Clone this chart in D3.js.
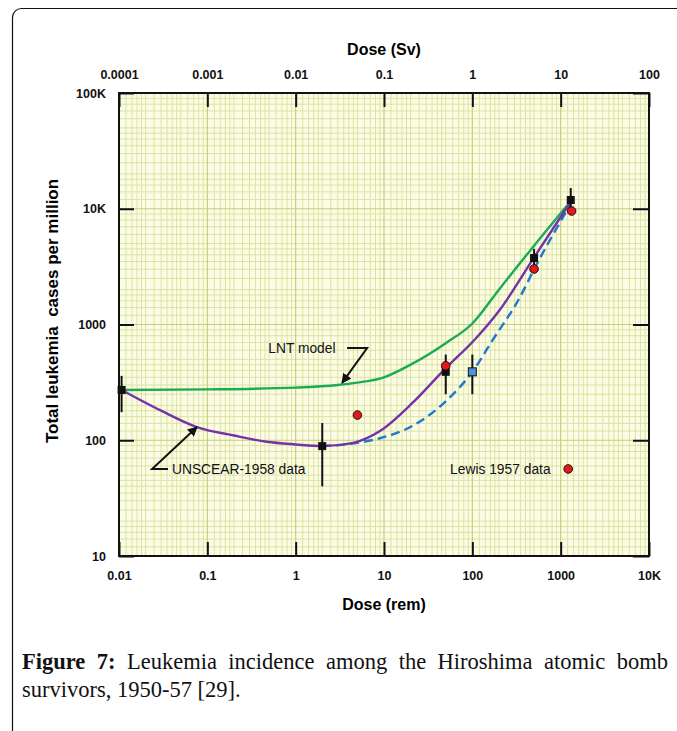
<!DOCTYPE html>
<html lang="en">
<head>
<meta charset="UTF-8">
<title>Leukemia incidence, Hiroshima</title>
<script src="https://cdn.jsdelivr.net/npm/d3@7/dist/d3.min.js"></script>
<style>
    body { margin: 0; background: #fff; }
    svg { font-family: "Liberation Sans", Arial, sans-serif; }
</style>
</head>
<body>
<svg id="main" width="677" height="731"></svg>
<script>
    // ---- data ----
    const remTicks = [0.01, 0.1, 1, 10, 100, 1000, 10000];
    const remLabels = ['0.01', '0.1', '1', '10', '100', '1000', '10K'];
    const svTicks = [0.0001, 0.001, 0.01, 0.1, 1, 10, 100];
    const svLabels = ['0.0001', '0.001', '0.01', '0.1', '1', '10', '100'];
    const caseTicks = [10, 100, 1000, 10000, 100000];
    const caseLabels = ['10', '100', '1000', '10K', '100K'];

    // LNT model curve [dose rem, cases per million]
    const lntDose =  [0.0107, 0.1, 1, 3, 5, 10, 20, 50, 100, 200, 500, 1300];
    const lntCases = [272, 275, 285, 300, 315, 350, 450, 690, 1020, 2000, 4800, 11600];

    // UNSCEAR-1958 fit (purple)
    const fitDose =  [0.0107, 0.03, 0.076, 0.2, 0.47, 1, 2, 4.5, 9, 21, 50, 108, 206, 500, 1300];
    const fitCases = [272, 180, 130, 110, 97, 92, 89, 95, 120, 210, 420, 750, 1350, 3800, 11500];

    // dashed blue curve
    const dashDose =  [2, 5, 9, 21, 52, 100, 170, 347, 500, 1300];
    const dashCases = [89, 95, 104, 133, 223, 390, 735, 1730, 3000, 11000];

    // UNSCEAR-1958 data points with error bars
    const unDose = [0.0107, 2, 50, 500, 1300];
    const unCases = [272, 89, 390, 3750, 11900];
    const unLow = [175, 40, 250, 2960, 9400];
    const unHigh = [360, 141, 550, 4500, 15100];

    // blue square point
    const blueDose = [100];
    const blueCases = [390];
    const blueLow = [250];
    const blueHigh = [550];

    // Lewis 1957 data (red)
    const lewisDose = [5, 50, 500, 1330];
    const lewisCases = [165, 440, 3020, 9560];

    // ---- layout ----
    const svg = d3.select('svg#main');
    const pLeft = 119, pRight = 649, pTop = 93, pBottom = 556;

    const x = d3.scaleLog().domain([0.01, 10000]).range([pLeft, pRight]);
    const xSv = d3.scaleLog().domain([0.0001, 100]).range([pLeft, pRight]);
    const y = d3.scaleLog().domain([10, 100000]).range([pBottom, pTop]);

    // outer frame
    svg.append('rect')
        .attr('x', 12.5).attr('y', 8.5)
        .attr('width', 700).attr('height', 760)
        .attr('rx', 9)
        .attr('fill', 'none').attr('stroke', '#111').attr('stroke-width', 1.2);

    // plot background
    svg.append('rect')
        .attr('x', pLeft).attr('y', pTop)
        .attr('width', pRight - pLeft).attr('height', pBottom - pTop)
        .attr('fill', '#fcfce6');

    // minor grid
    const subs = [1.2, 1.4, 1.6, 1.8, 2, 2.5, 3, 3.5, 4, 4.5, 5, 6, 7, 8, 9];
    let minorX = [], minorY = [];
    remTicks.slice(0, -1).forEach(d => subs.forEach(m => minorX.push(d * m)));
    caseTicks.slice(0, -1).forEach(d => subs.forEach(m => minorY.push(d * m)));

    let grid = svg.append('g');
    grid.selectAll('.mx').data(minorX).enter().append('line')
        .attr('x1', d => x(d)).attr('x2', d => x(d))
        .attr('y1', pTop).attr('y2', pBottom)
        .attr('stroke', '#dbe3a0').attr('stroke-width', 1);
    grid.selectAll('.my').data(minorY).enter().append('line')
        .attr('y1', d => y(d)).attr('y2', d => y(d))
        .attr('x1', pLeft).attr('x2', pRight)
        .attr('stroke', '#dbe3a0').attr('stroke-width', 1);
    // decade grid
    grid.selectAll('.dx').data(remTicks).enter().append('line')
        .attr('x1', d => x(d)).attr('x2', d => x(d))
        .attr('y1', pTop).attr('y2', pBottom)
        .attr('stroke', '#c6cf78').attr('stroke-width', 1.2);
    grid.selectAll('.dy').data(caseTicks).enter().append('line')
        .attr('y1', d => y(d)).attr('y2', d => y(d))
        .attr('x1', pLeft).attr('x2', pRight)
        .attr('stroke', '#c6cf78').attr('stroke-width', 1.2);

    // axes (ticks point inward)
    const axisFont = g => g.selectAll('text')
        .style('font-family', '"Liberation Sans", Arial, sans-serif')
        .style('font-size', '12.5px').style('font-weight', 'bold').attr('fill', '#111');
    const axisLines = g => {
        g.select('.domain').remove();
        g.selectAll('line').attr('stroke', '#111').attr('stroke-width', 2);
    };

    svg.append('g')
        .attr('transform', 'translate(0,' + pBottom + ')')
        .call(d3.axisBottom(x).tickValues(remTicks).tickFormat((d, i) => remLabels[i])
            .tickSizeInner(-14).tickSizeOuter(0).tickPadding(15))
        .call(axisLines).call(axisFont);

    svg.append('g')
        .attr('transform', 'translate(0,' + pTop + ')')
        .call(d3.axisTop(xSv).tickValues(svTicks).tickFormat((d, i) => svLabels[i])
            .tickSizeInner(-14).tickSizeOuter(0).tickPadding(14))
        .call(axisLines).call(axisFont);

    svg.append('g')
        .attr('transform', 'translate(' + pLeft + ',0)')
        .call(d3.axisLeft(y).tickValues(caseTicks).tickFormat((d, i) => caseLabels[i])
            .tickSizeInner(-15).tickSizeOuter(0).tickPadding(13))
        .call(axisLines).call(axisFont);

    svg.append('g')
        .attr('transform', 'translate(' + pRight + ',0)')
        .call(d3.axisRight(y).tickValues(caseTicks).tickFormat('')
            .tickSizeInner(-16).tickSizeOuter(0))
        .call(axisLines);

    // plot border
    svg.append('rect')
        .attr('x', pLeft).attr('y', pTop)
        .attr('width', pRight - pLeft).attr('height', pBottom - pTop)
        .attr('fill', 'none').attr('stroke', '#111').attr('stroke-width', 2);

    // axis titles
    svg.append('text').text('Dose (Sv)')
        .attr('x', (pLeft + pRight) / 2).attr('y', 55)
        .attr('text-anchor', 'middle')
        .style('font-size', '16px').style('font-weight', 'bold');
    svg.append('text').text('Dose (rem)')
        .attr('x', (pLeft + pRight) / 2).attr('y', 610)
        .attr('text-anchor', 'middle')
        .style('font-size', '16px').style('font-weight', 'bold');
    svg.append('text').text('Total leukemia  cases per million')
        .attr('transform', 'translate(58,311) rotate(-90)')
        .attr('text-anchor', 'middle')
        .style('font-size', '17px').style('font-weight', 'bold')
        .style('white-space', 'pre');

    // curves
    const line = d3.line()
        .x(d => x(d[0])).y(d => y(d[1]))
        .curve(d3.curveMonotoneX);

    const curves = [
        {dose: lntDose, cases: lntCases, color: '#1bab55', dash: null},
        {dose: fitDose, cases: fitCases, color: '#7332a6', dash: null},
        {dose: dashDose, cases: dashCases, color: '#1f78c9', dash: '9,5'}
    ];
    // dashed first so purple sits over it like in the figure
    [curves[2], curves[0], curves[1]].forEach(c => {
        svg.append('path')
            .datum(d3.zip(c.dose, c.cases))
            .attr('d', line)
            .attr('fill', 'none')
            .attr('stroke', c.color)
            .attr('stroke-width', 2.4)
            .attr('stroke-dasharray', c.dash);
    });

    // error bars
    const errs = d3.zip(unDose, unLow, unHigh).concat(d3.zip(blueDose, blueLow, blueHigh));
    svg.append('g').selectAll('line').data(errs).enter().append('line')
        .attr('x1', d => x(d[0])).attr('x2', d => x(d[0]))
        .attr('y1', d => y(d[1])).attr('y2', d => y(d[2]))
        .attr('stroke', '#111').attr('stroke-width', 2);

    // UNSCEAR squares
    svg.append('g').selectAll('rect').data(d3.zip(unDose, unCases)).enter().append('rect')
        .attr('x', d => x(d[0]) - 4).attr('y', d => y(d[1]) - 4)
        .attr('width', 8).attr('height', 8)
        .attr('fill', '#111');

    // blue square
    svg.append('g').selectAll('rect').data(d3.zip(blueDose, blueCases)).enter().append('rect')
        .attr('x', d => x(d[0]) - 4).attr('y', d => y(d[1]) - 4)
        .attr('width', 8).attr('height', 8)
        .attr('fill', '#4b93dc').attr('stroke', '#111').attr('stroke-width', 1);

    // Lewis red dots
    svg.append('g').selectAll('circle').data(d3.zip(lewisDose, lewisCases)).enter().append('circle')
        .attr('cx', d => x(d[0])).attr('cy', d => y(d[1]))
        .attr('r', 4.3)
        .attr('fill', '#e8161b').attr('stroke', '#111').attr('stroke-width', 1);

    // annotations
    svg.append('defs').append('marker')
        .attr('id', 'arrow')
        .attr('viewBox', '0 0 10 10')
        .attr('refX', 9).attr('refY', 5)
        .attr('markerWidth', 5).attr('markerHeight', 5)
        .attr('orient', 'auto')
        .append('path').attr('d', 'M0,0 L10,5 L0,10 z').attr('fill', '#111');

    const annot = svg.append('g').style('font-size', '13.8px').attr('fill', '#111');

    // LNT model label + leader
    annot.append('text').text('LNT model')
        .attr('x', x(0.49)).attr('y', y(627) + 5);
    annot.append('path')
        .attr('d', d3.line()([[x(3.82), y(627)], [x(6.44), y(627)], [x(3.35), y(313)]]))
        .attr('fill', 'none').attr('stroke', '#111').attr('stroke-width', 2)
        .attr('marker-end', 'url(#arrow)');

    // UNSCEAR label + leader
    annot.append('text').text('UNSCEAR-1958 data')
        .attr('x', x(0.0398)).attr('y', y(56.5) + 5);
    annot.append('path')
        .attr('d', d3.line()([[x(0.0359), y(56.5)], [x(0.0237), y(56.5)], [x(0.0764), y(130)]]))
        .attr('fill', 'none').attr('stroke', '#111').attr('stroke-width', 2)
        .attr('marker-end', 'url(#arrow)');

    // Lewis label + sample dot
    annot.append('text').text('Lewis 1957 data')
        .attr('x', x(56)).attr('y', y(56.5) + 5);
    annot.append('circle')
        .attr('cx', x(1217)).attr('cy', y(56.5)).attr('r', 4.3)
        .attr('fill', '#e8161b').attr('stroke', '#111').attr('stroke-width', 1);

    // caption
    const serif = '"Liberation Serif", "Times New Roman", serif';
    const cap = svg.append('g')
        .style('font-family', serif)
        .style('font-size', '22.5px').attr('fill', '#111');
    const line1 = cap.append('text').attr('x', 22).attr('y', 669);
    line1.append('tspan').text('Figure 7:').style('font-weight', 'bold');
    line1.append('tspan').text(' Leukemia incidence among the Hiroshima atomic bomb');
    cap.append('text').attr('x', 22).attr('y', 697).text('survivors, 1950-57 [29].');

    // justify the first line to the text column width
    const w = line1.node().getComputedTextLength();
    const gaps = 8;
    line1.style('word-spacing', Math.max(0, (668 - 22 - w) / gaps) + 'px');
</script>
</body>
</html>
